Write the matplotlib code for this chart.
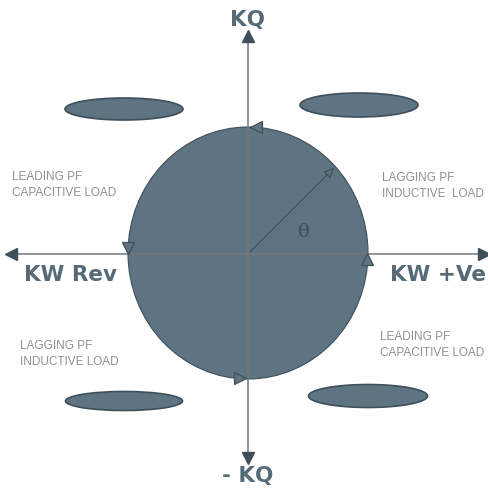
import matplotlib
matplotlib.use('Agg')
import matplotlib.pyplot as plt
from matplotlib.patches import Ellipse

plt.rcParams['font.family'] = ['Liberation Sans', 'DejaVu Sans']

# diagram content
axis_labels = ['KQ', '- KQ', 'KW Rev', 'KW +Ve']
quadrant_labels = ['LEADING PF\nCAPACITIVE LOAD', 'LAGGING PF\nINDUCTIVE  LOAD',
                   'LAGGING PF\nINDUCTIVE LOAD', 'LEADING PF\nCAPACITIVE LOAD']
angle_label = '\u03b8'

# layout in pixel units (y downwards)
cx, cy = 248, 253
circ_w, circ_h = 240, 252
label_xy = [(248, 20), (248, 476), (70, 275), (438, 275)]
quad_xy = [(12, 185), (382, 186), (20, 354), (380, 345)]
blob_xy = [(124, 109), (359, 105), (124, 401), (368, 396)]
blob_wh = [(118, 22), (118, 24), (117, 19), (119, 23)]

slate = '#5e7482'
edge = '#3f4f5a'
txt_dark = '#566b77'
txt_grey = '#8c9194'
line_c = '#6f767b'

fig = plt.figure(figsize=(4.88, 4.90), dpi=100)
ax = fig.add_axes([0, 0, 1, 1])
ax.set_xlim(0, 488)
ax.set_ylim(490, 0)
ax.axis('off')

# main circle
ax.add_patch(Ellipse((cx, cy), circ_w, circ_h, fc=slate, ec=edge, lw=0.8, zorder=1))

# small ellipses in each quadrant
for (x, y), (w, h) in zip(blob_xy, blob_wh):
    ax.add_patch(Ellipse((x, y), w, h, fc=slate, ec=edge, lw=1.2, zorder=1))

# axes lines with heads
ax.plot([9, 480], [cy + 1, cy + 1], color=line_c, lw=1.1, zorder=2)
ax.plot([cx, cx], [38, 456], color=line_c, lw=1.1, zorder=2)
ax.plot([484], [cy + 1], marker='>', ms=8, color=edge, mec=edge, zorder=3)
ax.plot([11], [cy + 1], marker='<', ms=8, color=edge, mec=edge, zorder=3)
ax.plot([cx], [36], marker='^', ms=8, color=edge, mec=edge, zorder=3)
ax.plot([cx], [458], marker='v', ms=8, color=edge, mec=edge, zorder=3)

# direction marks on the circle
marks = [(256, 127, '<'), (128, 248, 'v'), (240, 378, '>'), (367, 259, '^')]
for x, y, m in marks:
    ax.plot([x], [y], marker=m, ms=8, mfc=slate, mec=edge, mew=0.9, zorder=4)

# radius vector
ax.annotate('', xy=(336, 166), xytext=(cx, cy + 1),
            arrowprops=dict(arrowstyle='-|>,head_length=0.6,head_width=0.3',
                            color=edge, fc=slate, lw=0.9), zorder=4)
ax.text(304, 232, angle_label, fontsize=14, color='#3f4f5a',
        family='DejaVu Serif', ha='center', va='center', zorder=5)

for s, (x, y) in zip(axis_labels, label_xy):
    ax.text(x, y, s, fontsize=15.5, fontweight='bold', color=txt_dark,
            family='DejaVu Sans', ha='center', va='center')

for s, (x, y) in zip(quadrant_labels, quad_xy):
    ax.text(x, y, s, fontsize=8.5, color=txt_grey, ha='left', va='center',
            linespacing=1.35)

fig.savefig('out.png', dpi=100)
